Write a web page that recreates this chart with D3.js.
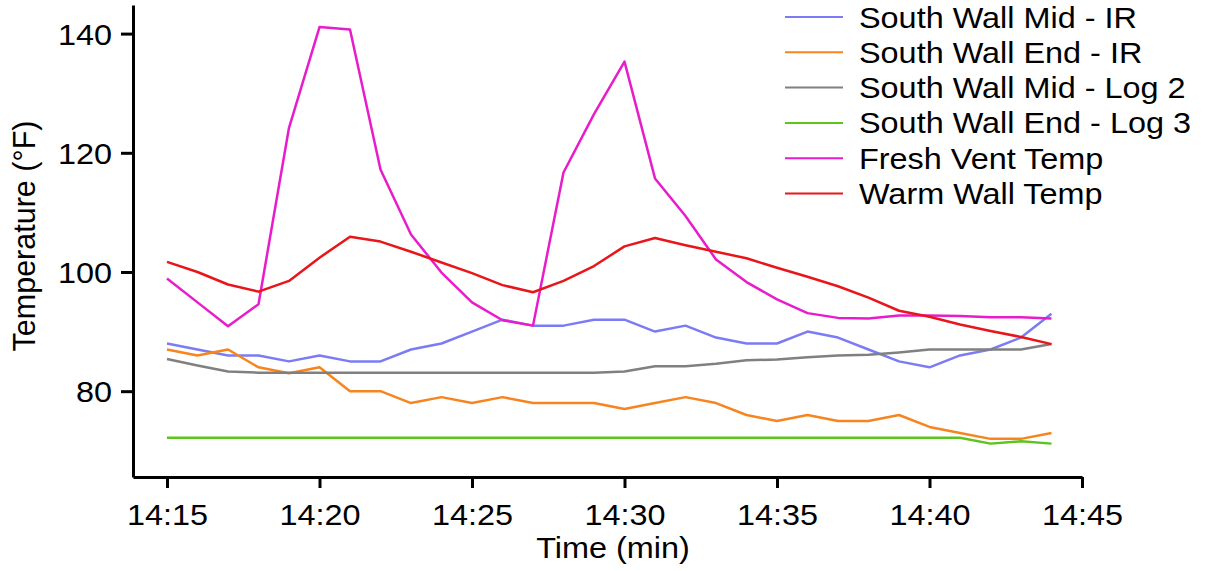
<!DOCTYPE html>
<html>
<head>
<meta charset="utf-8">
<script src="https://cdn.jsdelivr.net/npm/d3@7"></script>
<style>
  body { margin: 0; background: #fff; }
  text { font-family: "Liberation Sans", Arial, sans-serif; fill: #000; }
</style>
</head>
<body>
<div id="chart"></div>
<script>
// sample times, one reading per minute
const times = ["14:15","14:16","14:17","14:18","14:19","14:20","14:21","14:22","14:23","14:24",
  "14:25","14:26","14:27","14:28","14:29","14:30","14:31","14:32","14:33","14:34",
  "14:35","14:36","14:37","14:38","14:39","14:40","14:41","14:42","14:43","14:44"];

const xTicks = ["14:15","14:20","14:25","14:30","14:35","14:40","14:45"];
const yTicks = [80, 100, 120, 140];

const seriesNames = ["South Wall Mid - IR", "South Wall End - IR", "South Wall Mid - Log 2",
  "South Wall End - Log 3", "Fresh Vent Temp", "Warm Wall Temp"];

const midIR = [88,87,86,86,85,86,85,85,87,88,90,92,91,91,92,92,90,91,89,88,88,90,89,87,85,84,86,87,89,93];
const endIR = [87,86,87,84,83,84,80,80,78,79,78,79,78,78,78,77,78,79,78,76,75,76,75,75,76,74,73,72,72,73];
const midLog2 = [85.4,84.3,83.3,83.1,83.1,83.1,83.1,83.1,83.1,83.1,83.1,83.1,83.1,83.1,83.1,
  83.3,84.2,84.2,84.6,85.2,85.3,85.7,86.0,86.1,86.5,87.0,87.0,87.0,87.0,87.9];
const endLog3 = [72.2,72.2,72.2,72.2,72.2,72.2,72.2,72.2,72.2,72.2,72.2,72.2,72.2,72.2,72.2,
  72.2,72.2,72.2,72.2,72.2,72.2,72.2,72.2,72.2,72.2,72.2,72.2,71.2,71.6,71.2];
const freshVent = [98.9,94.9,90.9,94.6,124.2,141.1,140.7,117.2,106.3,99.9,94.9,91.9,91.0,116.7,126.5,
  135.3,115.7,109.4,102.1,98.3,95.4,93.1,92.3,92.2,92.7,92.7,92.6,92.4,92.4,92.2];
const warmWall = [101.7,100.0,97.9,96.7,98.5,102.4,105.9,105.1,103.4,101.6,99.8,97.8,96.6,98.5,101.0,
  104.3,105.7,104.5,103.4,102.3,100.7,99.2,97.6,95.7,93.5,92.5,91.2,90.1,89.1,87.9];

const colors = ["#7b7cf5", "#f7841f", "#808080", "#5cc41a", "#e81ccb", "#e8161a"];

const W = 1208, H = 571;
const stretch = 1.08; // text in the source is slightly wide
const parse = d3.timeParse("%H:%M");

const svg = d3.select("#chart").append("svg")
  .attr("width", W)
  .attr("height", H);

// scales: first tick at 167, axis line starts a bit to the left
const x = d3.scaleTime()
  .domain([parse(xTicks[0]), parse(xTicks[xTicks.length - 1])])
  .range([167, 1082]);
x.domain([x.invert(133), x.domain()[1]]).range([133, 1082]);

const y = d3.scaleLinear()
  .domain([65.6, 144.8])
  .range([477, 5]);

const series = [midIR, endIR, midLog2, endLog3, freshVent, warmWall].map((vals, k) => ({
  name: seriesNames[k],
  color: colors[k],
  values: vals.map((v, i) => ({ t: parse(times[i]), v: v }))
}));

// axes
const xAxis = d3.axisBottom(x)
  .tickValues(xTicks.map(parse))
  .tickFormat(d3.timeFormat("%H:%M"))
  .tickSize(11)
  .tickSizeOuter(0);

const yAxis = d3.axisLeft(y)
  .tickValues(yTicks)
  .tickSize(12)
  .tickSizeOuter(0);

const gx = svg.append("g")
  .attr("transform", `translate(0,${y.range()[0]})`)
  .call(xAxis);

const gy = svg.append("g")
  .attr("transform", `translate(${x.range()[0]},0)`)
  .call(yAxis);

[gx, gy].forEach(g => {
  g.select(".domain").attr("stroke", "#000").attr("stroke-width", 3);
  g.selectAll(".tick line").attr("stroke", "#000").attr("stroke-width", 3);
  g.selectAll(".tick text")
    .attr("fill", "#000")
    .style("font-family", '"Liberation Sans", Arial, sans-serif')
    .style("font-size", "30px");
});

gx.selectAll(".tick text")
  .attr("y", 0)
  .attr("dy", 0)
  .attr("transform", `translate(0,48) scale(${stretch},1)`);

gy.selectAll(".tick text")
  .attr("x", 0)
  .attr("dy", "0.35em")
  .attr("transform", `translate(-21,0) scale(${stretch},1)`);

// lines
const line = d3.line()
  .x(d => x(d.t))
  .y(d => y(d.v));

svg.append("g")
  .selectAll("path")
  .data(series)
  .join("path")
  .attr("fill", "none")
  .attr("stroke", d => d.color)
  .attr("stroke-width", 2.5)
  .attr("stroke-linejoin", "round")
  .attr("d", d => line(d.values));

// axis titles
svg.append("text")
  .attr("text-anchor", "middle")
  .attr("transform", `translate(613,558) scale(${stretch},1)`)
  .style("font-size", "30px")
  .text("Time (min)");

svg.append("text")
  .attr("text-anchor", "middle")
  .attr("transform", "translate(35,236) rotate(-90)")
  .style("font-size", "30.5px")
  .text("Temperature (°F)");

// legend
const legend = svg.append("g")
  .attr("transform", "translate(785,17)");

const rows = legend.selectAll("g")
  .data(series)
  .join("g")
  .attr("transform", (d, i) => `translate(0,${i * 35.3})`);

rows.append("line")
  .attr("x1", 0)
  .attr("x2", 58)
  .attr("stroke", d => d.color)
  .attr("stroke-width", 2);

rows.append("text")
  .attr("dy", "0.35em")
  .attr("transform", `translate(74,0) scale(${stretch},1)`)
  .style("font-size", "30px")
  .text(d => d.name);
</script>
</body>
</html>
